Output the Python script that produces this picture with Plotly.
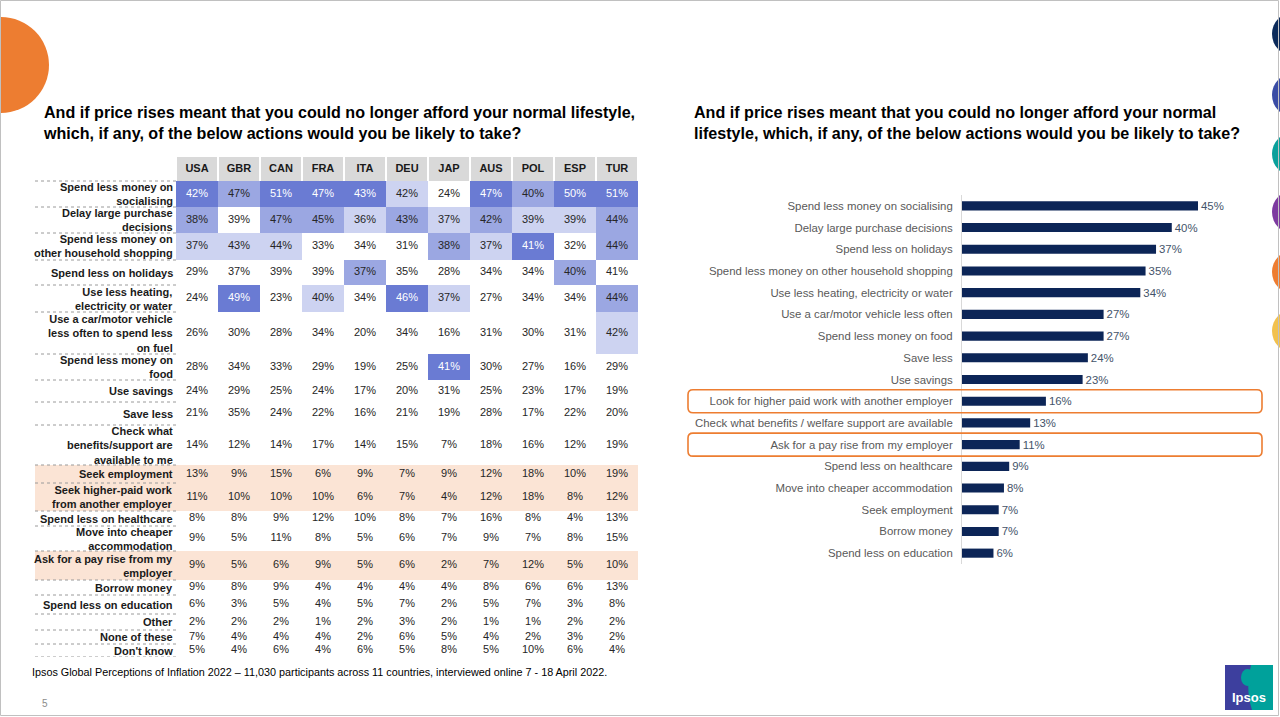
import plotly.graph_objects as go

W, H = 1280, 717
FONT = "Arial, Liberation Sans, sans-serif"

# ---------------- data ----------------
countries = ["USA", "GBR", "CAN", "FRA", "ITA", "DEU", "JAP", "AUS", "POL", "ESP", "TUR"]

table_actions = [
    "Spend less money on<br>socialising",
    "Delay large purchase<br>decisions",
    "Spend less money on<br>other household shopping",
    "Spend less on holidays",
    "Use less heating,<br>electricity or water",
    "Use a car/motor vehicle<br>less often to spend less<br>on fuel",
    "Spend less money on<br>food",
    "Use savings",
    "Save less",
    "Check what<br>benefits/support are<br>available to me",
    "Seek employment",
    "Seek higher-paid work<br>from another employer",
    "Spend less on healthcare",
    "Move into cheaper<br>accommodation",
    "Ask for a pay rise from my<br>employer",
    "Borrow money",
    "Spend less on education",
    "Other",
    "None of these",
    "Don't know",
]

table_values = [
    [42, 47, 51, 47, 43, 42, 24, 47, 40, 50, 51],
    [38, 39, 47, 45, 36, 43, 37, 42, 39, 39, 44],
    [37, 43, 44, 33, 34, 31, 38, 37, 41, 32, 44],
    [29, 37, 39, 39, 37, 35, 28, 34, 34, 40, 41],
    [24, 49, 23, 40, 34, 46, 37, 27, 34, 34, 44],
    [26, 30, 28, 34, 20, 34, 16, 31, 30, 31, 42],
    [28, 34, 33, 29, 19, 25, 41, 30, 27, 16, 29],
    [24, 29, 25, 24, 17, 20, 31, 25, 23, 17, 19],
    [21, 35, 24, 22, 16, 21, 19, 28, 17, 22, 20],
    [14, 12, 14, 17, 14, 15, 7, 18, 16, 12, 19],
    [13, 9, 15, 6, 9, 7, 9, 12, 18, 10, 19],
    [11, 10, 10, 10, 6, 7, 4, 12, 18, 8, 12],
    [8, 8, 9, 12, 10, 8, 7, 16, 8, 4, 13],
    [9, 5, 11, 8, 5, 6, 7, 9, 7, 8, 15],
    [9, 5, 6, 9, 5, 6, 2, 7, 12, 5, 10],
    [9, 8, 9, 4, 4, 4, 4, 8, 6, 6, 13],
    [6, 3, 5, 4, 5, 7, 2, 5, 7, 3, 8],
    [2, 2, 2, 1, 2, 3, 2, 1, 1, 2, 2],
    [7, 4, 4, 4, 2, 6, 5, 4, 2, 3, 2],
    [5, 4, 6, 4, 6, 5, 8, 5, 10, 6, 4],
]

# shading level: 0 none, 1 light, 2 medium, 3 dark
table_shade = [
    [3, 2, 3, 3, 3, 1, 0, 3, 2, 3, 3],
    [2, 0, 2, 2, 1, 2, 1, 2, 1, 1, 2],
    [1, 1, 1, 0, 0, 0, 2, 1, 3, 0, 2],
    [0, 0, 0, 0, 2, 0, 0, 0, 0, 2, 0],
    [0, 3, 0, 1, 0, 3, 1, 0, 0, 0, 2],
    [0, 0, 0, 0, 0, 0, 0, 0, 0, 0, 1],
    [0, 0, 0, 0, 0, 0, 3, 0, 0, 0, 0],
] + [[0] * 11 for _ in range(13)]

table_highlight = ["Seek employment", "Seek higher-paid work<br>from another employer",
                   "Ask for a pay rise from my<br>employer"]

bar_actions = [
    "Spend less money on socialising",
    "Delay large purchase decisions",
    "Spend less on holidays",
    "Spend less money on other household shopping",
    "Use less heating, electricity or water",
    "Use a car/motor vehicle less often",
    "Spend less money on food",
    "Save less",
    "Use savings",
    "Look for higher paid work with another employer",
    "Check what benefits / welfare support are available",
    "Ask for a pay rise from my employer",
    "Spend less on healthcare",
    "Move into cheaper accommodation",
    "Seek employment",
    "Borrow money",
    "Spend less on education",
]
bar_values = [45, 40, 37, 35, 34, 27, 27, 24, 23, 16, 13, 11, 9, 8, 7, 7, 6]
bar_highlight = ["Look for higher paid work with another employer",
                 "Ask for a pay rise from my employer"]

title_text = ("And if price rises meant that you could no longer afford your normal lifestyle,<br>"
              "which, if any, of the below actions would you be likely to take?")
title_text_r = ("And if price rises meant that you could no longer afford your normal<br>"
                "lifestyle, which, if any, of the below actions would you be likely to take?")
footnote = ("Ipsos Global Perceptions of Inflation 2022 \u2013 11,030 participants across 11 countries, "
            "interviewed online 7 - 18 April 2022.")

# ---------------- layout constants (pixels) ----------------
header_h = 24
row_heights = [26, 26, 27, 25, 27, 42, 26, 22, 23, 40, 18, 28, 15, 25, 29, 15, 19, 16, 14, 13]
LW = 141 / 42  # label column width in data-column units


def px(x):
    return x / W


def py(y):
    return 1 - y / H


# colours
WHITE = "#ffffff"
LIGHT = "#cdd3f1"
MED = "#9ba7e2"
DARK = "#6a7bd3"
PEACH = "#fbe4d5"
HEAD = "#d9d9d9"
NAVY = "#0c2557"
ORANGE = "#ed7d31"

# ---------------- table ----------------
edges_y = [header_h]
for h in row_heights:
    edges_y.append(edges_y[-1] + h)
centers_y = [(edges_y[i] + edges_y[i + 1]) / 2 for i in range(len(row_heights))]
total_h = edges_y[-1]
x_edges = [-LW] + list(range(len(countries) + 1))

z_body = []
for i, act in enumerate(table_actions):
    hl = act in table_highlight
    z_body.append([4 if hl else 0] + [4 if hl else s for s in table_shade[i]])

cs = [[0, WHITE], [0.2, WHITE], [0.2, LIGHT], [0.4, LIGHT], [0.4, MED], [0.6, MED],
      [0.6, DARK], [0.8, DARK], [0.8, PEACH], [1, PEACH]]

fig = go.Figure()

fig.add_trace(go.Heatmap(
    z=[[0] + [1] * len(countries)], x=x_edges, y=[0, header_h],
    colorscale=[[0, WHITE], [1, HEAD]], zmin=0, zmax=1, showscale=False,
    xgap=2, hoverinfo="skip", xaxis="x", yaxis="y"))

fig.add_trace(go.Heatmap(
    z=z_body, x=x_edges, y=edges_y, colorscale=cs, zmin=-0.5, zmax=4.5,
    showscale=False, hoverinfo="skip", xaxis="x", yaxis="y"))

# dotted separators in label column
dx, dy = [], []
for b in edges_y:
    dx += [-LW, 0, None]
    dy += [b, b, None]
fig.add_trace(go.Scatter(x=dx, y=dy, mode="lines",
                         line=dict(color="#9a9a9a", width=1, dash="dot"),
                         hoverinfo="skip", showlegend=False, xaxis="x", yaxis="y"))

# header text
fig.add_trace(go.Scatter(
    x=[j + 0.5 for j in range(len(countries))], y=[header_h / 2] * len(countries),
    mode="text", text=["<b>%s</b>" % c for c in countries],
    textfont=dict(family=FONT, size=11, color="#1a1a1a"),
    hoverinfo="skip", showlegend=False, xaxis="x", yaxis="y"))

# cell values
tx, ty, tt, tc = [], [], [], []
for i, row in enumerate(table_values):
    for j, v in enumerate(row):
        tx.append(j + 0.5)
        ty.append(centers_y[i])
        tt.append("%d%%" % v)
        tc.append("#ffffff" if table_shade[i][j] == 3 else "#262626")
fig.add_trace(go.Scatter(x=tx, y=ty, mode="text", text=tt,
                         textfont=dict(family=FONT, size=11, color=tc),
                         hoverinfo="skip", showlegend=False, xaxis="x", yaxis="y"))

annotations = []
for i, act in enumerate(table_actions):
    annotations.append(dict(
        x=-0.02, y=centers_y[i], xref="x", yref="y", xanchor="right", yanchor="middle",
        align="right", showarrow=False, text="<b>%s</b>" % act,
        font=dict(family=FONT, size=11, color="#1a1a1a")))

# ---------------- bar chart ----------------
fig.add_trace(go.Bar(
    x=bar_values, y=bar_actions, orientation="h", marker=dict(color=NAVY, line=dict(width=0)),
    text=["%d%%" % v for v in bar_values], textposition="outside", cliponaxis=False,
    constraintext="none",
    textfont=dict(family=FONT, size=11.4, color="#44546a"),
    hoverinfo="skip", showlegend=False, xaxis="x2", yaxis="y2"))

shapes = []
# rounded highlight boxes
r_x = 5 / W
for cat in bar_highlight:
    k = bar_actions.index(cat)
    y0, y1 = k - 0.53, k + 0.53
    x0, x1 = px(688), px(1262)
    ry = 0.23
    path = (f"M {x0 + r_x},{y0} L {x1 - r_x},{y0} Q {x1},{y0} {x1},{y0 + ry} "
            f"L {x1},{y1 - ry} Q {x1},{y1} {x1 - r_x},{y1} L {x0 + r_x},{y1} "
            f"Q {x0},{y1} {x0},{y1 - ry} L {x0},{y0 + ry} Q {x0},{y0} {x0 + r_x},{y0} Z")
    shapes.append(dict(type="path", xref="paper", yref="y2", path=path,
                       line=dict(color=ORANGE, width=1.6), fillcolor="rgba(0,0,0,0)"))

# ---------------- slide decoration ----------------
shapes.append(dict(type="circle", xref="paper", yref="paper",
                   x0=px(1 - 48), x1=px(1 + 48), y0=py(113), y1=py(17),
                   fillcolor=ORANGE, line=dict(width=0), layer="below"))
deco_cols = ["#0b2a5a", "#3a4ca5", "#0aa09b", "#7d3aa0", "#ed7d31", "#f2c14e"]
deco_y = [34, 95, 154, 212, 272, 331]
for c, yc in zip(deco_cols, deco_y):
    shapes.append(dict(type="circle", xref="paper", yref="paper",
                       x0=px(1272), x1=px(1316), y0=py(yc + 22), y1=py(yc - 22),
                       fillcolor=c, line=dict(width=0)))
# border
shapes.append(dict(type="rect", xref="paper", yref="paper",
                   x0=px(0.5), x1=px(1278.5), y0=py(715.5), y1=py(0.5),
                   line=dict(color="#c0c0c0", width=1), fillcolor="rgba(0,0,0,0)"))
# Ipsos logo
shapes.append(dict(type="rect", xref="paper", yref="paper",
                   x0=px(1225), x1=px(1273), y0=py(710), y1=py(665),
                   fillcolor="#3d3f9e", line=dict(width=0)))
shapes.append(dict(type="path", xref="paper", yref="paper",
                   path=(f"M {px(1251)},{py(665)} Q {px(1245)},{py(688)} {px(1252)},{py(710)} "
                         f"L {px(1273)},{py(710)} L {px(1273)},{py(665)} Z"),
                   fillcolor="#00a19b", line=dict(width=0)))
shapes.append(dict(type="circle", xref="paper", yref="paper",
                   x0=px(1241), x1=px(1254), y0=py(686), y1=py(669),
                   fillcolor="#00a19b", line=dict(width=0)))

annotations += [
    dict(x=px(41), y=py(122), xref="paper", yref="paper", xanchor="left", yanchor="middle",
         align="left", showarrow=False, text="<b>%s</b>" % title_text,
         font=dict(family=FONT, size=16.1, color="#000000")),
    dict(x=px(692), y=py(122), xref="paper", yref="paper", xanchor="left", yanchor="middle",
         align="left", showarrow=False, text="<b>%s</b>" % title_text_r,
         font=dict(family=FONT, size=16.1, color="#000000")),
    dict(x=px(30), y=py(672), xref="paper", yref="paper", xanchor="left", yanchor="middle",
         showarrow=False, text=footnote, font=dict(family=FONT, size=10.8, color="#000000")),
    dict(x=px(40), y=py(703), xref="paper", yref="paper", xanchor="left", yanchor="middle",
         showarrow=False, text="5", font=dict(family=FONT, size=10, color="#8c8c8c")),
    dict(x=px(1249), y=py(697), xref="paper", yref="paper", xanchor="center", yanchor="middle",
         showarrow=False, text="<b>Ipsos</b>", font=dict(family=FONT, size=13, color="#ffffff")),
]

fig.update_layout(
    width=W, height=H, margin=dict(l=0, r=0, t=0, b=0),
    paper_bgcolor="white", plot_bgcolor="white", showlegend=False,
    font=dict(family=FONT),
    xaxis=dict(domain=[px(35), px(638)], range=[-LW, len(countries)], visible=False,
               fixedrange=True),
    yaxis=dict(domain=[py(157 + total_h), py(157)], range=[total_h, 0], visible=False,
               fixedrange=True),
    xaxis2=dict(domain=[px(962), px(1262)], range=[0, 300 / (236 / 45)], visible=False,
                fixedrange=True, anchor="y2"),
    yaxis2=dict(domain=[py(564), py(195)], anchor="x2", type="category",
                range=[len(bar_actions) - 0.5, -0.5], showline=True, linecolor="#d9d9d9",
                linewidth=1, ticks="", showgrid=False, zeroline=False,
                tickfont=dict(family=FONT, size=11.4, color="#595959"),
                ticklabelstandoff=6, fixedrange=True),
    bargap=0.58,
    shapes=shapes, annotations=annotations,
)

fig.write_html("out.html", config={"displayModeBar": False},
               post_script="document.body.style.margin='0px';document.body.style.overflow='hidden';")
